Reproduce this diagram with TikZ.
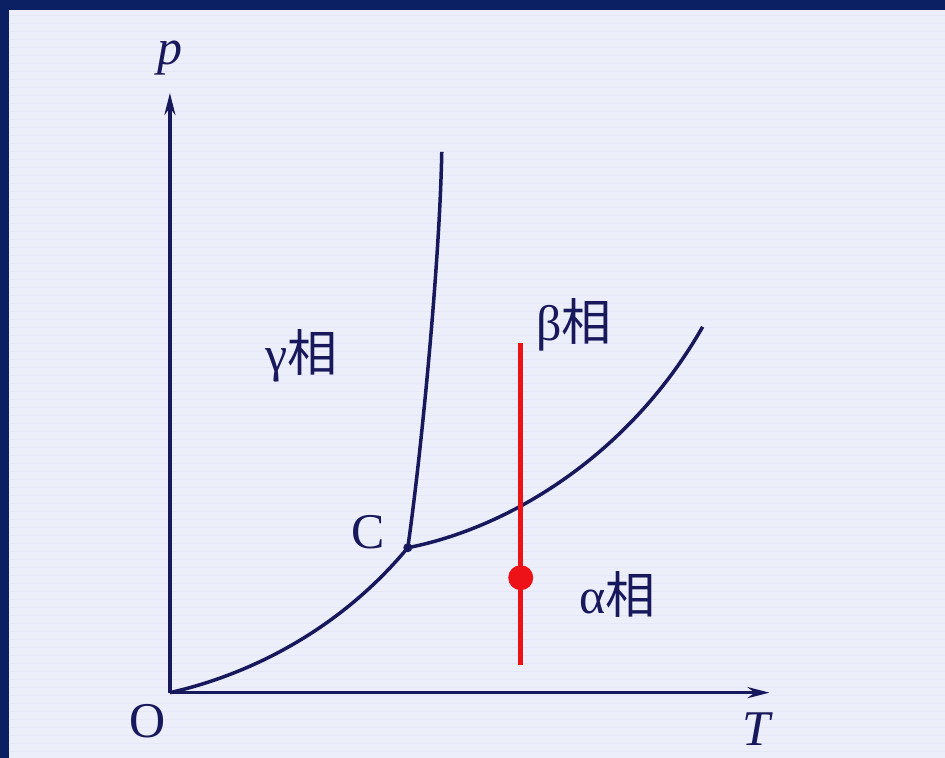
\documentclass[tikz,border=0pt]{standalone}
\usepackage{fontspec}
\setmainfont{Liberation Serif}
\newfontfamily\cjk{Noto Sans CJK SC}
\usetikzlibrary{arrows.meta}

\definecolor{frame}{RGB}{10,32,98}
\definecolor{ink}{RGB}{24,24,92}
\definecolor{paper}{RGB}{236,238,250}
\definecolor{stripe}{RGB}{228,231,245}
\definecolor{hot}{RGB}{236,18,24}

\begin{document}
\begin{tikzpicture}[
    x=1pt, y=-1pt,
    curve/.style={draw=ink, line width=3.5pt},
    axis/.style={draw=ink, line width=3.5pt, -{Stealth[length=22pt,width=11pt]}},
    lbl/.style={text=ink, inner sep=0pt, font=\fontsize{50}{60}\selectfont},
    phase/.style={lbl}
]

% Background
\fill[frame] (0,0) rectangle (945,758);
\fill[paper] (9,10) rectangle (945,758);
\foreach \y in {16,24,...,752}
    \draw[stripe, line width=1pt] (9,\y) -- (945,\y);
\useasboundingbox (0,0) rectangle (945,758);

% Points
\coordinate (O) at (170,693);
\coordinate (C) at (408,548);
\coordinate (pend) at (170,93);
\coordinate (Tend) at (770,693);
\coordinate (gtop) at (442,152);
\coordinate (bend) at (703,327);

% Axes
\draw[axis] (O) -- (pend);
\draw[axis] (O) -- (Tend);
\node[lbl, font=\fontsize{50}{60}\selectfont\itshape] (p) at (170,58) {p};
\node[lbl, font=\fontsize{50}{60}\selectfont\itshape] (T) at (757,730) {T};
\node[lbl] (o) at (148,722) {O};

% Phase boundaries
\draw[curve] (O) .. controls (250,675) and (340,630) .. (C);
\draw[curve] (C) .. controls (422,450) and (440,260) .. (gtop);
\draw[curve] (C) .. controls (510,528) and (630,455) .. (bend);
\fill[ink] (C) circle (4.5pt);
\node[lbl] (c) at (368,532) {C};

% Phase names
\node[phase] (gamma) at (302,356) {γ{\cjk 相}};
\node[phase] (beta) at (574,325) {β{\cjk 相}};
\node[phase] (alpha) at (618,595) {α{\cjk 相}};

% Isotherm
\coordinate (rtop) at (521,343);
\coordinate (rbot) at (521,665);
\draw[hot, line width=5pt] (rtop) -- (rbot);
\node[circle, fill=hot, inner sep=0pt, minimum size=25pt] (state) at (521,578) {};

\end{tikzpicture}
\end{document}
